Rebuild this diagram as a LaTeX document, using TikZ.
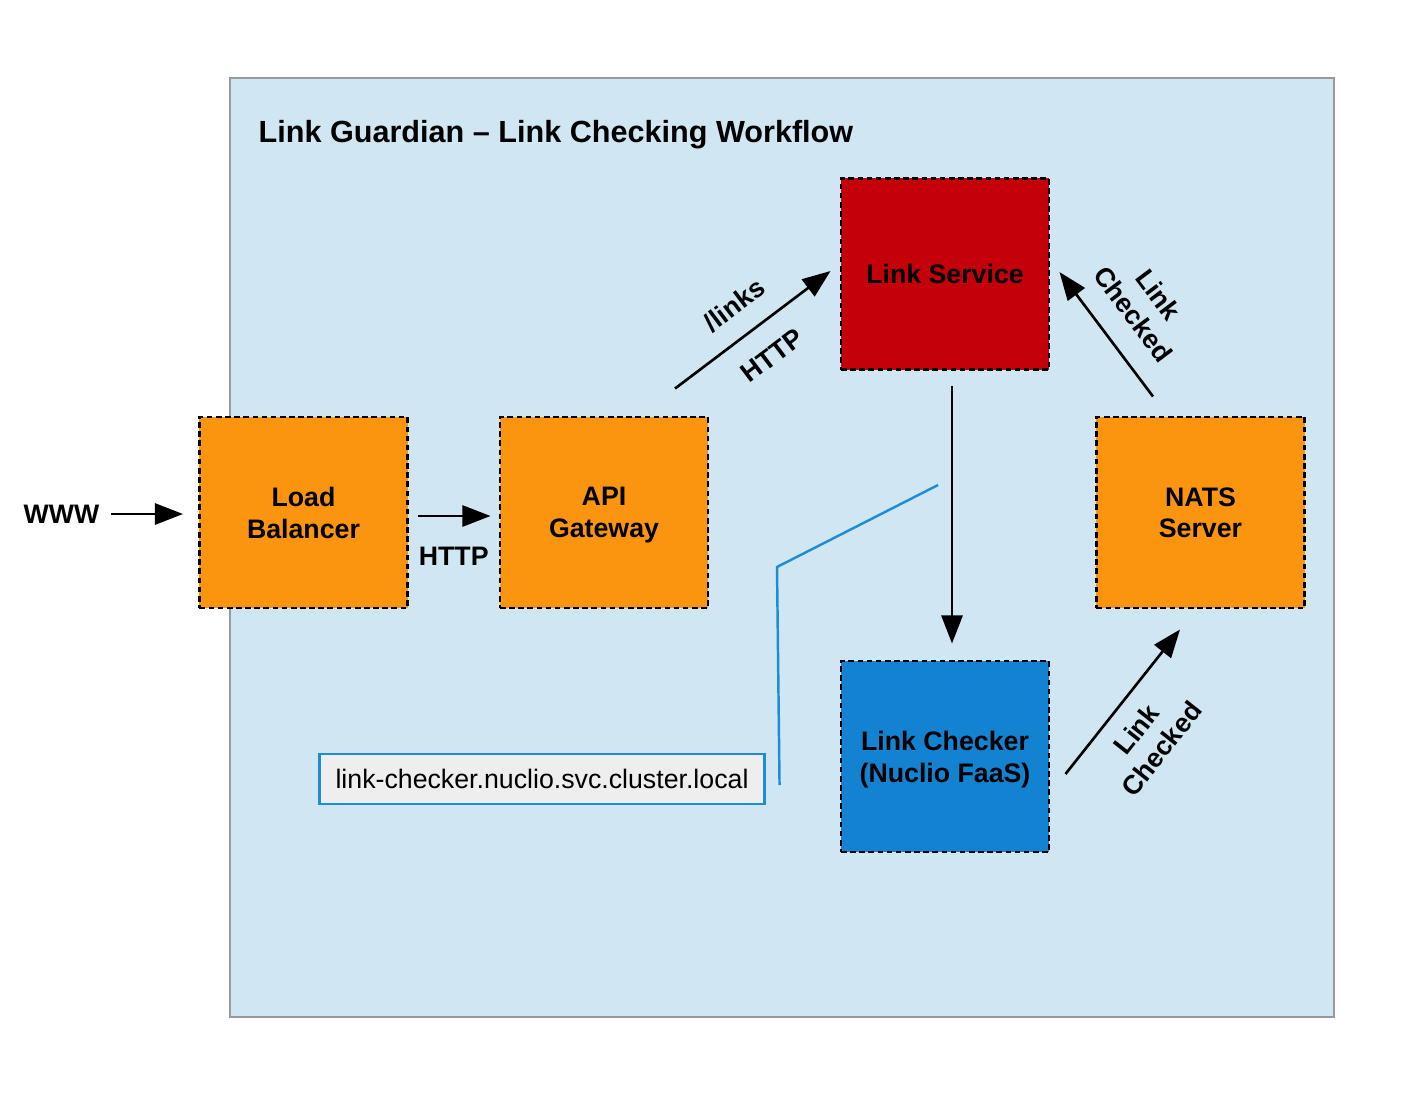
\documentclass[tikz,border=0pt]{standalone}
\usepackage{fontspec}
\setmainfont{Liberation Sans}
\usetikzlibrary{arrows.meta,positioning,calc}

\definecolor{panelblue}{HTML}{D1E6F3}
\definecolor{boxorange}{HTML}{FB9510}
\definecolor{boxred}{HTML}{C4000B}
\definecolor{boxblue}{HTML}{1282D1}
\definecolor{urlgray}{HTML}{EEEEEE}
\definecolor{lineblue}{HTML}{1F8CD6}

\begin{document}
\begin{tikzpicture}[x=0.01cm,y=-0.01cm,
  svcbox/.style={draw=black,line width=0.8pt,dash pattern=on 1.6pt off 1pt,minimum width=2.08cm,minimum height=1.91cm,inner sep=0pt,text depth=0pt,align=center,font=\fontsize{7.6}{9}\selectfont\bfseries},
  lbl/.style={font=\fontsize{7.6}{9}\selectfont\bfseries,align=center},
  flow/.style={line width=0.75pt,-{Triangle[length=8pt,width=6pt]}}]
\useasboundingbox (0,0) rectangle (1419,1097);
\draw[gray!80,fill=panelblue,line width=0.4pt] (230,78) rectangle (1334,1017);
\node[anchor=west,inner sep=0pt,font=\fontsize{8.7}{10}\selectfont\bfseries] (title) at (258,135) {Link Guardian -- Link Checking Workflow};

\node[svcbox,fill=boxorange] (lb) at (303.5,512.5) {Load\\Balancer};
\node[svcbox,fill=boxorange] (api) at (604,512.5) {API\\Gateway};
\node[svcbox,fill=boxred] (lsvc) at (945,274) {Link Service};
\node[svcbox,fill=boxorange] (nats) at (1200.5,512.5) {NATS\\Server};
\node[svcbox,fill=boxblue] (lchk) at (945,756.5) {Link Checker\\(Nuclio FaaS)};
\node[draw=lineblue,fill=urlgray,line width=0.8pt,minimum width=4.44cm,minimum height=0.5cm,inner sep=0pt,font=\fontsize{7.6}{9}\selectfont] (url) at (542,779) {link-checker.nuclio.svc.cluster.local};
\node[lbl,anchor=east,inner sep=0pt] (www) at (100,514) {WWW};

\draw[flow,shorten <=0.11cm,shorten >=0.15cm] (www.east) -- (www.east -| lb.west);
\draw[flow,shorten <=0.09cm,shorten >=0.08cm] ([yshift=-0.035cm]lb.east) -- ([yshift=-0.035cm]api.west) node[lbl,midway,below=0.18cm] (http1) {HTTP};
\draw[flow] ([shift={(71,-27)}]api.north) -- ([shift={(-9,-3)}]lsvc.west)
  node[lbl,midway,sloped,above=0.08cm] (links) {/links}
  node[lbl,midway,sloped,below=0.1cm] (http2) {HTTP};
\draw[flow] ([shift={(7,15)}]lsvc.south) -- ([shift={(7,-16)}]lchk.north);
\draw[flow] ([shift={(-47.5,-19)}]nats.north) -- ([shift={(9,-2)}]lsvc.east)
  node[lbl,midway,sloped,above=0.11cm] (chk1) {Link\\Checked};
\draw[flow] ([shift={(15,17.5)}]lchk.east) -- ([shift={(-20.5,20)}]nats.south)
  node[lbl,pos=0.43,sloped,below=0.05cm] (chk2) {Link\\Checked};

\coordinate (tip) at (938,485);
\draw[lineblue,line width=0.7pt] (tip) -- (777,567) -- ([shift={(14,6)}]url.east);
\end{tikzpicture}
\end{document}
